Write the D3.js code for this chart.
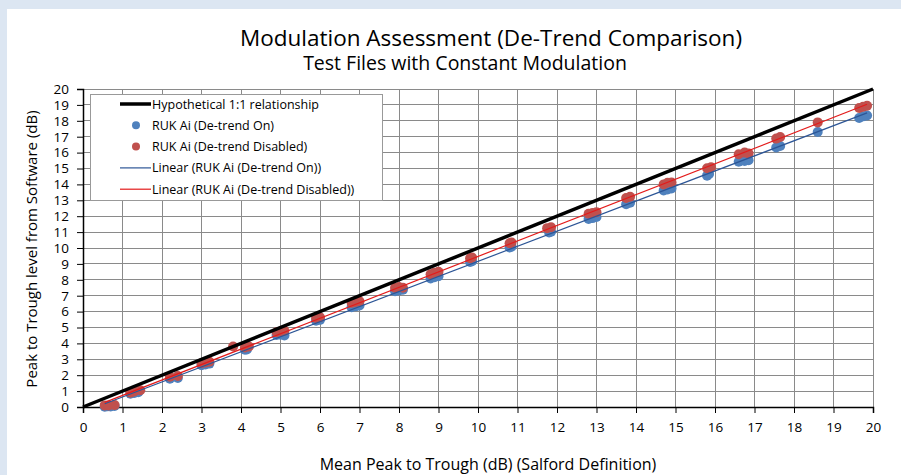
<!DOCTYPE html>
<html lang="en">
<head>
  <meta charset="utf-8">
  <script src="https://d3js.org/d3.v7.min.js"></script>
  <style>
    body { margin: 0; background: #dce6f2; }
    svg { display: block; font-family: "Open Sans", sans-serif; }
  </style>
</head>
<body>
  <svg id="chart" width="901" height="475"></svg>
  <script>
    // x / y readings for each series (dB)
    const onX = [0.55, 0.62, 0.7, 0.8, 1.2, 1.3, 1.4, 2.2, 2.4, 3.0, 3.1, 3.2, 4.1, 4.15,
      4.9, 5.0, 5.1, 5.9, 6.0, 6.8, 6.9, 7.0, 7.9, 8.0, 8.1, 8.8, 8.9, 9.0, 9.8, 9.85,
      10.8, 10.85, 11.8, 11.85, 12.8, 12.9, 13.0, 13.75, 13.85, 14.7, 14.8, 14.9,
      15.8, 15.85, 16.6, 16.75, 16.85, 17.55, 17.65, 18.6, 19.65, 19.75, 19.85];
    const onY = [0.02, 0.04, 0.03, 0.06, 0.83, 0.88, 0.93, 1.78, 1.83, 2.63, 2.68, 2.73, 3.6, 3.62,
      4.53, 4.55, 4.5, 5.43, 5.48, 6.28, 6.33, 6.38, 7.28, 7.33, 7.38, 8.08, 8.16, 8.22, 9.12, 9.17,
      10.03, 10.08, 10.97, 11.02, 11.82, 11.88, 11.95, 12.75, 12.85, 13.62, 13.68, 13.74,
      14.55, 14.65, 15.42, 15.47, 15.52, 16.32, 16.42, 17.3, 18.18, 18.28, 18.33];
    const offX = [0.55, 0.65, 0.8, 1.2, 1.3, 1.45, 2.2, 2.4, 3.0, 3.1, 3.2, 3.8, 4.1, 4.2,
      4.9, 5.0, 5.1, 5.9, 6.0, 6.8, 6.9, 7.0, 7.9, 8.0, 8.1, 8.8, 8.9, 9.0, 9.8, 9.85,
      10.8, 10.85, 11.75, 11.85, 12.8, 12.9, 13.0, 13.75, 13.85, 14.7, 14.8, 14.9,
      15.8, 15.9, 16.6, 16.75, 16.85, 17.55, 17.65, 18.6, 19.65, 19.75, 19.85];
    const offY = [0.1, 0.1, 0.12, 0.9, 0.98, 1.05, 1.9, 1.95, 2.75, 2.8, 2.85, 3.8, 3.75, 3.8,
      4.7, 4.75, 4.8, 5.6, 5.65, 6.55, 6.6, 6.65, 7.5, 7.55, 7.5, 8.35, 8.45, 8.5, 9.35, 9.4,
      10.3, 10.35, 11.25, 11.3, 12.15, 12.2, 12.25, 13.15, 13.22, 14.0, 14.1, 14.12,
      15.02, 15.08, 15.9, 16.0, 15.95, 16.88, 16.98, 17.9, 18.8, 18.88, 18.95];
    const xTicks = d3.range(0, 21);
    const yTicks = d3.range(0, 21);

    const svg = d3.select("#chart");
    svg.append("rect").attr("x", 7).attr("y", 9).attr("width", 894).attr("height", 466).attr("fill", "#fff");

    const x = d3.scaleLinear().domain([0, 20]).range([83, 873]);
    const y = d3.scaleLinear().domain([0, 20]).range([407, 89]);

    // grid
    svg.append("g").selectAll("line").data(xTicks.slice(1)).join("line")
      .attr("x1", d => x(d)).attr("x2", d => x(d)).attr("y1", y(0)).attr("y2", y(20))
      .attr("stroke", "#8a8a8a").attr("stroke-width", 1).attr("shape-rendering", "crispEdges");
    svg.append("g").selectAll("line").data(yTicks.slice(1)).join("line")
      .attr("x1", x(0)).attr("x2", x(20)).attr("y1", d => y(d)).attr("y2", d => y(d))
      .attr("stroke", "#8a8a8a").attr("stroke-width", 1).attr("shape-rendering", "crispEdges");

    // axes
    const xAxis = svg.append("g").attr("transform", `translate(0,${y(0)})`)
      .call(d3.axisBottom(x).tickValues(xTicks).tickFormat(d3.format("d")).tickSize(6).tickPadding(9));
    const yAxis = svg.append("g").attr("transform", `translate(${x(0)},0)`)
      .call(d3.axisLeft(y).tickValues(yTicks).tickFormat(d3.format("d")).tickSize(6).tickPadding(8));
    [xAxis, yAxis].forEach(a => {
      a.select(".domain").attr("stroke", "#000").attr("stroke-width", 1.5);
      a.selectAll(".tick line").attr("stroke", "#000");
      a.selectAll("text").attr("font-family", "Open Sans").attr("font-size", 13.5).attr("fill", "#000");
    });

    // points
    const onPts = onX.map((v, i) => [v, onY[i]]);
    const offPts = offX.map((v, i) => [v, offY[i]]);
    svg.append("g").selectAll("circle").data(onPts).join("circle")
      .attr("cx", d => x(d[0])).attr("cy", d => y(d[1])).attr("r", 5).attr("fill", "#4f81bd");
    svg.append("g").selectAll("circle").data(offPts).join("circle")
      .attr("cx", d => x(d[0])).attr("cy", d => y(d[1])).attr("r", 5).attr("fill", "#c0504d");

    // 1:1 line
    svg.append("line").attr("x1", x(0)).attr("y1", y(0)).attr("x2", x(20)).attr("y2", y(20))
      .attr("stroke", "#000").attr("stroke-width", 3.5);

    // linear trendlines
    function fit(pts) {
      const mx = d3.mean(pts, d => d[0]), my = d3.mean(pts, d => d[1]);
      const b = d3.sum(pts, d => (d[0] - mx) * (d[1] - my)) / d3.sum(pts, d => (d[0] - mx) ** 2);
      const a = my - b * mx;
      const [x0, x1] = d3.extent(pts, d => d[0]);
      return [[x0, a + b * x0], [x1, a + b * x1]];
    }
    const line = d3.line().x(d => x(d[0])).y(d => y(d[1]));
    svg.append("path").attr("d", line(fit(onPts))).attr("stroke", "#2c5596").attr("stroke-width", 1.2).attr("fill", "none");
    svg.append("path").attr("d", line(fit(offPts))).attr("stroke", "#e31b1b").attr("stroke-width", 1.2).attr("fill", "none");

    // titles
    svg.append("text").attr("x", 491).attr("y", 46).attr("text-anchor", "middle")
      .attr("font-size", 22.5).text("Modulation Assessment (De-Trend Comparison)");
    svg.append("text").attr("x", 465).attr("y", 70).attr("text-anchor", "middle")
      .attr("font-size", 19.5).text("Test Files with Constant Modulation");
    svg.append("text").attr("x", 488).attr("y", 470).attr("text-anchor", "middle")
      .attr("font-size", 16).text("Mean Peak to Trough (dB) (Salford Definition)");
    svg.append("text").attr("transform", "translate(37,249) rotate(-90)").attr("text-anchor", "middle")
      .attr("font-size", 15).text("Peak to Trough level from Software (dB)");

    // legend
    const lg = svg.append("g");
    lg.append("rect").attr("x", 90.5).attr("y", 94.5).attr("width", 292).attr("height", 106)
      .attr("fill", "#fff").attr("stroke", "#999");
    const keys = ["Hypothetical 1:1 relationship", "RUK Ai (De-trend On)", "RUK Ai (De-trend Disabled)",
      "Linear (RUK Ai (De-trend On))", "Linear (RUK Ai (De-trend Disabled))"];
    const kind = ["line", "dot", "dot", "line", "line"];
    const col = ["#000", "#4f81bd", "#c0504d", "#2c5596", "#e31b1b"];
    const sw = [3.5, 0, 0, 1.2, 1.2];
    keys.forEach((k, i) => {
      const ly = 104 + i * 21.3;
      if (kind[i] == "line") {
        lg.append("line").attr("x1", 120).attr("x2", 151).attr("y1", ly).attr("y2", ly)
          .attr("stroke", col[i]).attr("stroke-width", sw[i]);
      } else {
        lg.append("circle").attr("cx", 136).attr("cy", ly).attr("r", 4).attr("fill", col[i]);
      }
      lg.append("text").attr("x", 152).attr("y", ly + 4.5).attr("font-size", 12.5).text(k);
    });
  </script>
</body>
</html>
